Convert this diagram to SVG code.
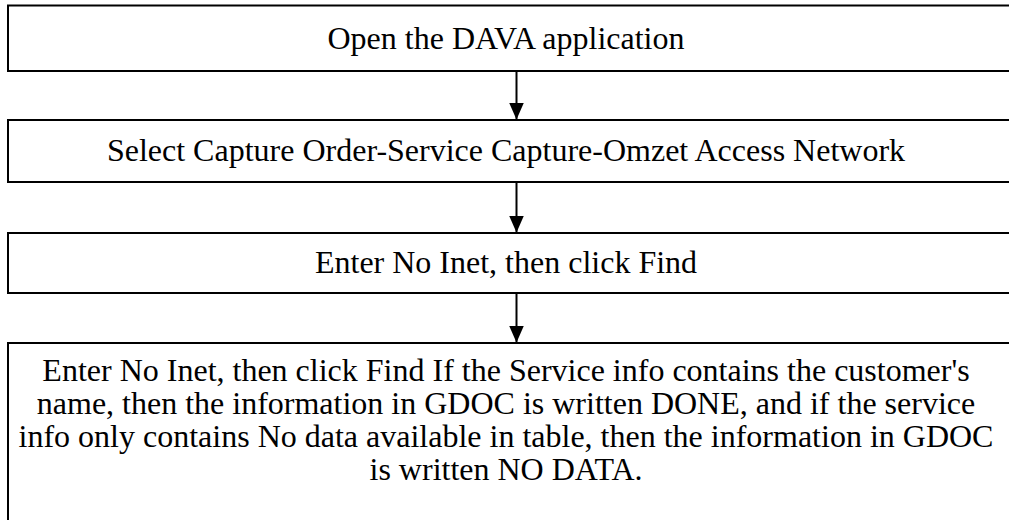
<svg xmlns="http://www.w3.org/2000/svg" width="1009" height="520" viewBox="0 0 1009 520">
  <defs>
    <style>
      .box { fill: #ffffff; stroke: #000000; stroke-width: 2; }
      .lbl { font-family: "Liberation Serif", "Times New Roman", serif; font-size: 32px; fill: #000000; text-anchor: middle; }
      .conn { stroke: #000000; stroke-width: 2; fill: none; }
    </style>
    <marker id="arrow" viewBox="0 0 17 15" refX="17" refY="7.5" markerWidth="17" markerHeight="15" orient="auto" markerUnits="userSpaceOnUse">
      <path d="M0,0 L17,7.5 L0,15 z" fill="#000000"/>
    </marker>
  </defs>
  <rect width="1009" height="520" fill="#ffffff"/>

  <g id="node-open">
    <rect class="box" x="8" y="5.5" width="1010" height="65.5"/>
    <text class="lbl" x="506" y="49">Open the DAVA application</text>
  </g>

  <g id="node-select">
    <rect class="box" x="8" y="120" width="1010" height="62"/>
    <text class="lbl" x="506" y="161">Select Capture Order-Service Capture-Omzet Access Network</text>
  </g>

  <g id="node-enter">
    <rect class="box" x="8" y="233" width="1010" height="60"/>
    <text class="lbl" x="506" y="273">Enter No Inet, then click Find</text>
  </g>

  <g id="node-result">
    <rect class="box" x="8" y="343" width="1010" height="200"/>
    <text class="lbl" x="506" y="381">Enter No Inet, then click Find If the Service info contains the customer's</text>
    <text class="lbl" x="506" y="414">name, then the information in GDOC is written DONE, and if the service</text>
    <text class="lbl" x="506" y="447">info only contains No data available in table, then the information in GDOC</text>
    <text class="lbl" x="506" y="480">is written NO DATA.</text>
  </g>

  <g id="connectors">
    <line class="conn" x1="516.5" y1="71" x2="516.5" y2="119.5" marker-end="url(#arrow)"/>
    <line class="conn" x1="516.5" y1="182" x2="516.5" y2="232.5" marker-end="url(#arrow)"/>
    <line class="conn" x1="516.5" y1="293" x2="516.5" y2="342.5" marker-end="url(#arrow)"/>
  </g>
</svg>
